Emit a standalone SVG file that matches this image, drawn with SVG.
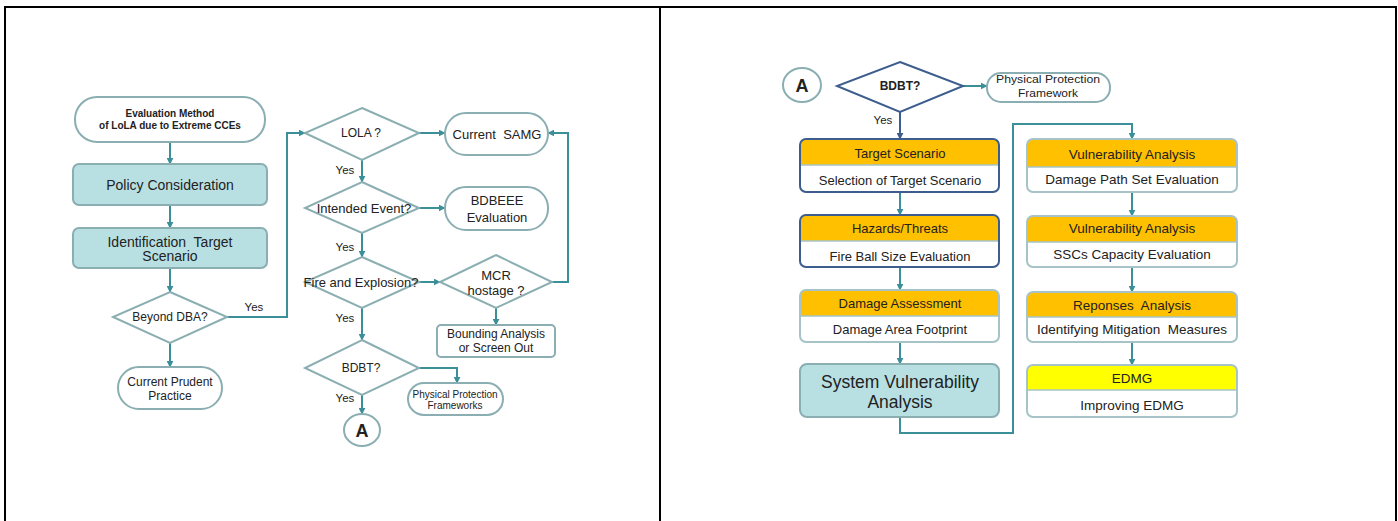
<svg xmlns="http://www.w3.org/2000/svg" width="1398" height="521" viewBox="0 0 1398 521">
  <style>
    text { font-family: "Liberation Sans", Arial, sans-serif; fill: #222; text-anchor: middle; dominant-baseline: central; }
    .n { fill: #fff; stroke: #8aaeb2; stroke-width: 2; }
    .tealbox { fill: #b8e0e2; stroke: #8aaeb2; stroke-width: 2; }
    .blue { fill: #fff; stroke: #3d5d8f; stroke-width: 2; }
    .c { fill: none; stroke: #3a8f98; stroke-width: 2; }
    .cb { fill: none; stroke: #3d5d8f; stroke-width: 2; }
    .frame { stroke: #000; stroke-width: 2; fill: none; }
    .hdr { fill: #ffc000; }
    .hdry { fill: #ffff00; }
    .outl { fill: none; stroke: #a6c4c8; stroke-width: 2; }
    .outb { fill: none; stroke: #3d5d8f; stroke-width: 2; }
    .div { stroke: #a6c4c8; stroke-width: 1.5; }
    .t13 { font-size: 13px; }
    .t12 { font-size: 12px; }
    .t14 { font-size: 14px; }
    .yes { font-size: 11.5px; }
    .r13 { font-size: 13.5px; }
  </style>
  <defs>
    <marker id="arr" viewBox="0 0 10 10" refX="9" refY="5" markerWidth="7" markerHeight="7" markerUnits="userSpaceOnUse" orient="auto">
      <path d="M0,0 L10,5 L0,10 z" fill="#3a8f98"/>
    </marker>
    <marker id="arrb" viewBox="0 0 10 10" refX="9" refY="5" markerWidth="7" markerHeight="7" markerUnits="userSpaceOnUse" orient="auto">
      <path d="M0,0 L10,5 L0,10 z" fill="#3d5d8f"/>
    </marker>
  </defs>

  <!-- table frame -->
  <g id="frame">
    <path class="frame" d="M5,521 V7 H1396 V521"/>
    <path class="frame" d="M660,7 V521"/>
  </g>

  <!-- left flowchart: connectors -->
  <g id="connectors-left">
    <path class="c" d="M170,142 V164" marker-end="url(#arr)"/>
    <path class="c" d="M170,205 V228" marker-end="url(#arr)"/>
    <path class="c" d="M170,268 V292" marker-end="url(#arr)"/>
    <path class="c" d="M170,343 V367" marker-end="url(#arr)"/>
    <path class="c" d="M227,317 H287 V133 H305" marker-end="url(#arr)"/>
    <path class="c" d="M419,133 H445" marker-end="url(#arr)"/>
    <path class="c" d="M362,160 V182" marker-end="url(#arr)"/>
    <path class="c" d="M419,208 H445" marker-end="url(#arr)"/>
    <path class="c" d="M362,233 V257" marker-end="url(#arr)"/>
    <path class="c" d="M419,282 H440" marker-end="url(#arr)"/>
    <path class="c" d="M552,282 H568 V133 H548" marker-end="url(#arr)"/>
    <path class="c" d="M496,308 V325" marker-end="url(#arr)"/>
    <path class="c" d="M362,308 V340" marker-end="url(#arr)"/>
    <path class="c" d="M419,368 H457 V383" marker-end="url(#arr)" stroke-width="2.5"/>
    <path class="c" d="M362,395 V414" marker-end="url(#arr)"/>
    <text class="yes" x="254" y="307">Yes</text>
    <text class="yes" x="345" y="170">Yes</text>
    <text class="yes" x="345" y="247">Yes</text>
    <text class="yes" x="345" y="318">Yes</text>
    <text class="yes" x="345" y="398">Yes</text>
  </g>

  <!-- left flowchart: nodes -->
  <g id="start">
    <rect class="n" x="75" y="97" width="190" height="45" rx="22"/>
    <text font-size="10" font-weight="bold" x="170" y="113">Evaluation Method</text>
    <text font-size="10" font-weight="bold" x="170" y="125">of LoLA due to Extreme CCEs</text>
  </g>
  <g id="policy">
    <rect class="tealbox" x="73" y="164" width="194" height="41" rx="6"/>
    <text class="t14" x="170" y="185">Policy Consideration</text>
  </g>
  <g id="identification">
    <rect class="tealbox" x="73" y="228" width="194" height="40" rx="6"/>
    <text class="t14" x="170" y="242" xml:space="preserve">Identification  Target</text>
    <text class="t14" x="170" y="256">Scenario</text>
  </g>
  <g id="beyond-dba">
    <polygon class="n" points="170,292 227,317 170,343 113,317"/>
    <text class="t12" x="170" y="317">Beyond DBA?</text>
  </g>
  <g id="prudent">
    <rect class="n" x="118" y="367" width="104" height="42" rx="21"/>
    <text class="t12" x="170" y="382">Current Prudent</text>
    <text class="t12" x="170" y="396">Practice</text>
  </g>
  <g id="lola">
    <polygon class="n" points="362,108 419,133 362,160 305,133"/>
    <text class="t12" x="361" y="133">LOLA ?</text>
  </g>
  <g id="samg">
    <rect class="n" x="445" y="113" width="103" height="42" rx="21"/>
    <text class="t13" x="497" y="134" xml:space="preserve">Current  SAMG</text>
  </g>
  <g id="intended">
    <polygon class="n" points="362,182 419,208 362,233 305,208"/>
    <text class="t13" x="364" y="208">Intended Event?</text>
  </g>
  <g id="bdbeee">
    <rect class="n" x="445" y="187" width="103" height="43" rx="21"/>
    <text class="t13" x="497" y="200">BDBEEE</text>
    <text class="t13" x="497" y="217">Evaluation</text>
  </g>
  <g id="fire">
    <polygon class="n" points="362,257 419,282 362,308 305,282"/>
    <text class="t13" x="361" y="282">Fire and Explosion?</text>
  </g>
  <g id="mcr">
    <polygon class="n" points="496,255 552,282 496,308 440,282"/>
    <text class="t13" x="496" y="275">MCR</text>
    <text class="t13" x="496" y="290">hostage ?</text>
  </g>
  <g id="bounding">
    <rect class="n" x="437" y="325" width="118" height="32" rx="4"/>
    <text class="t12" x="496" y="334">Bounding Analysis</text>
    <text class="t12" x="496" y="348">or Screen Out</text>
  </g>
  <g id="bdbt-left">
    <polygon class="n" points="362,340 419,368 362,395 305,368"/>
    <text class="t12" x="361" y="368">BDBT?</text>
  </g>
  <g id="ppf-left">
    <rect class="n" x="408" y="383" width="95" height="32" rx="16"/>
    <text font-size="10" x="455" y="394" textLength="85" lengthAdjust="spacingAndGlyphs">Physical Protection</text>
    <text font-size="10" x="455" y="405" textLength="55" lengthAdjust="spacingAndGlyphs">Frameworks</text>
  </g>
  <g id="a-left">
    <ellipse class="n" cx="362" cy="430" rx="18" ry="16"/>
    <text font-size="18" font-weight="bold" x="362" y="431">A</text>
  </g>

  <!-- right flowchart: connectors -->
  <g id="connectors-right">
    <path class="c" d="M963,86 H987" marker-end="url(#arr)"/>
    <path class="cb" d="M900,112 V139" marker-end="url(#arrb)"/>
    <path class="c" d="M900,192 V215" marker-end="url(#arr)"/>
    <path class="c" d="M900,267 V290" marker-end="url(#arr)"/>
    <path class="c" d="M900,342 V364" marker-end="url(#arr)"/>
    <path class="c" d="M900,417 V433 H1013 V124 H1132 V139" marker-end="url(#arr)"/>
    <path class="c" d="M1132,192 V216" marker-end="url(#arr)"/>
    <path class="c" d="M1132,267 V292" marker-end="url(#arr)"/>
    <path class="c" d="M1132,342 V365" marker-end="url(#arr)"/>
    <text class="yes" x="883" y="120">Yes</text>
  </g>

  <!-- right flowchart: nodes -->
  <g id="a-right">
    <ellipse class="n" cx="802" cy="85" rx="19" ry="17"/>
    <text font-size="18" font-weight="bold" x="802" y="86">A</text>
  </g>
  <g id="bdbt-right">
    <polygon class="blue" points="900,62 963,86 900,112 837,86"/>
    <text font-size="12" font-weight="bold" x="900" y="86">BDBT?</text>
  </g>
  <g id="ppf-right">
    <rect class="n" x="987" y="73" width="123" height="29" rx="14"/>
    <text font-size="11" x="1048" y="79" textLength="104" lengthAdjust="spacingAndGlyphs">Physical Protection</text>
    <text font-size="11" x="1048" y="93" textLength="60" lengthAdjust="spacingAndGlyphs">Framework</text>
  </g>

  <g id="target-scenario">
    <rect x="800" y="139" width="199" height="53" rx="6" fill="#fff"/>
    <path class="hdr" d="M800,165 V145 Q800,139 806,139 H993 Q999,139 999,145 V165 Z"/>
    <line class="div" x1="800" y1="165" x2="999" y2="165"/>
    <rect class="outb" x="800" y="139" width="199" height="53" rx="6"/>
    <text class="t13" x="900" y="153">Target Scenario</text>
    <text class="t13" x="900" y="180">Selection of Target Scenario</text>
  </g>
  <g id="hazards">
    <rect x="800" y="215" width="199" height="52" rx="6" fill="#fff"/>
    <path class="hdr" d="M800,241 V221 Q800,215 806,215 H993 Q999,215 999,221 V241 Z"/>
    <line class="div" x1="800" y1="241" x2="999" y2="241"/>
    <rect class="outb" x="800" y="215" width="199" height="52" rx="6"/>
    <text class="t13" x="900" y="228">Hazards/Threats</text>
    <text class="t13" x="900" y="256">Fire Ball Size Evaluation</text>
  </g>
  <g id="damage">
    <rect x="800" y="290" width="199" height="52" rx="6" fill="#fff"/>
    <path class="hdr" d="M800,316 V296 Q800,290 806,290 H993 Q999,290 999,296 V316 Z"/>
    <line class="div" x1="800" y1="316" x2="999" y2="316"/>
    <rect class="outl" x="800" y="290" width="199" height="52" rx="6"/>
    <text class="t13" x="900" y="303">Damage Assessment</text>
    <text class="t13" x="900" y="329">Damage Area Footprint</text>
  </g>
  <g id="system-vulnerability">
    <rect class="tealbox" x="800" y="364" width="199" height="53" rx="7" stroke="#a6c4c8"/>
    <text font-size="17.5" x="900" y="382">System Vulnerability</text>
    <text font-size="17.5" x="900" y="402">Analysis</text>
  </g>

  <g id="damage-path">
    <rect x="1027" y="139" width="210" height="53" rx="6" fill="#fff"/>
    <path class="hdr" d="M1027,167 V145 Q1027,139 1033,139 H1231 Q1237,139 1237,145 V167 Z"/>
    <line class="div" x1="1027" y1="167" x2="1237" y2="167"/>
    <rect class="outl" x="1027" y="139" width="210" height="53" rx="6"/>
    <text class="r13" x="1132" y="154">Vulnerability Analysis</text>
    <text class="r13" x="1132" y="179">Damage Path Set Evaluation</text>
  </g>
  <g id="ssc-capacity">
    <rect x="1027" y="216" width="210" height="51" rx="6" fill="#fff"/>
    <path class="hdr" d="M1027,242 V222 Q1027,216 1033,216 H1231 Q1237,216 1237,222 V242 Z"/>
    <line class="div" x1="1027" y1="242" x2="1237" y2="242"/>
    <rect class="outl" x="1027" y="216" width="210" height="51" rx="6"/>
    <text class="r13" x="1132" y="228">Vulnerability Analysis</text>
    <text class="r13" x="1132" y="254">SSCs Capacity Evaluation</text>
  </g>
  <g id="responses">
    <rect x="1027" y="292" width="210" height="50" rx="6" fill="#fff"/>
    <path class="hdr" d="M1027,317 V298 Q1027,292 1033,292 H1231 Q1237,292 1237,298 V317 Z"/>
    <line class="div" x1="1027" y1="317" x2="1237" y2="317"/>
    <rect class="outl" x="1027" y="292" width="210" height="50" rx="6"/>
    <text class="r13" x="1132" y="305" xml:space="preserve">Reponses  Analysis</text>
    <text class="r13" x="1132" y="329" xml:space="preserve">Identifying Mitigation  Measures</text>
  </g>
  <g id="edmg">
    <rect x="1027" y="365" width="210" height="52" rx="6" fill="#fff"/>
    <path class="hdry" d="M1027,390 V371 Q1027,365 1033,365 H1231 Q1237,365 1237,371 V390 Z"/>
    <line class="div" x1="1027" y1="390" x2="1237" y2="390"/>
    <rect class="outl" x="1027" y="365" width="210" height="52" rx="6"/>
    <text class="r13" x="1132" y="378">EDMG</text>
    <text class="r13" x="1132" y="405">Improving EDMG</text>
  </g>
</svg>
